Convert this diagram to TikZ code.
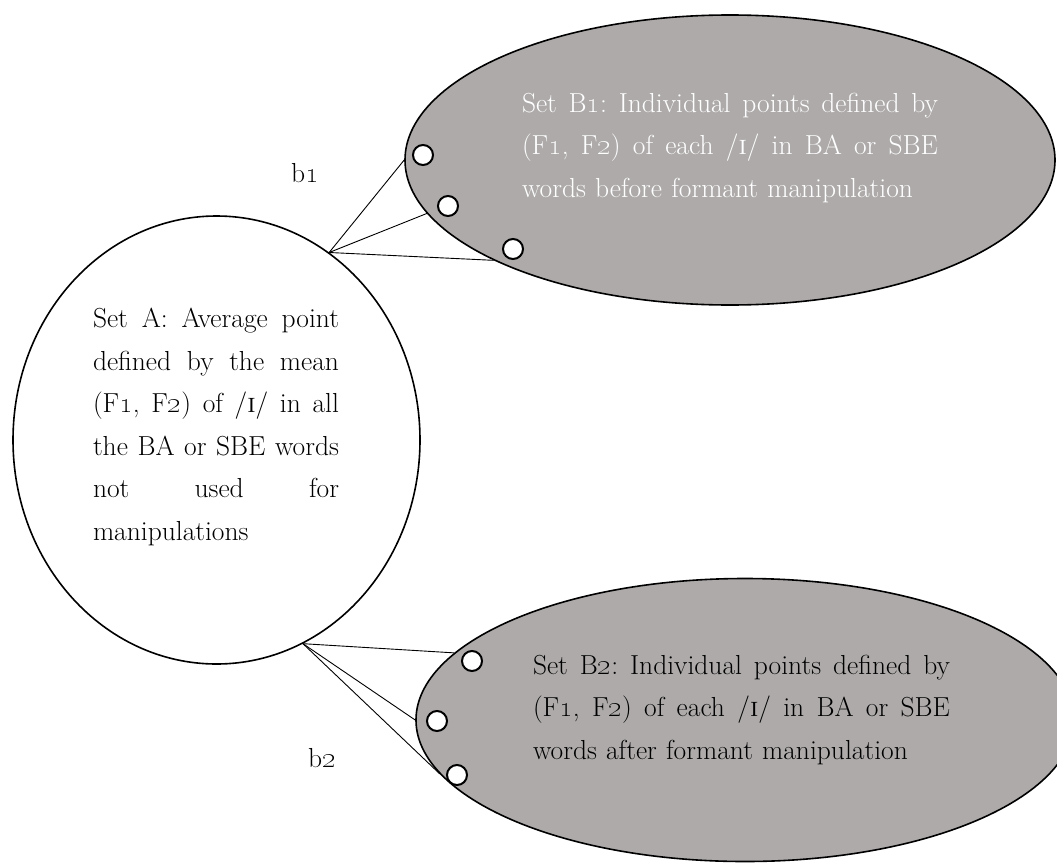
\documentclass[tikz,border=0pt]{standalone}
\usetikzlibrary{shapes.geometric}
\definecolor{setgrey}{HTML}{AEAAAA}
\newcommand{\fullline}[2]{\makebox[#1][s]{\spaceskip=0pt\xspaceskip=0pt #2}}
\newcommand{\os}[1]{\oldstylenums{#1}}
\frenchspacing

\begin{document}
\begin{tikzpicture}[x=1pt,y=-1pt,
  setshape/.style={draw,ellipse,line width=1.6pt,inner sep=0pt},
  dot/.style={draw,circle,fill=white,line width=2pt,minimum size=20pt,inner sep=0pt},
  tie/.style={line width=0.9pt},
  settext/.style={font=\fontsize{27.5}{42.5}\selectfont\frenchspacing,align=left,inner sep=0pt}]
  \useasboundingbox (0,0) rectangle (1057,862);
  \clip (0,0) rectangle (1057,862);
  \node[setshape,fill=white,minimum width=407,minimum height=448] (setA) at (216.5,440) {};
  \node[setshape,fill=setgrey,minimum width=650,minimum height=290] (setB1) at (730,160) {};
  \node[setshape,fill=setgrey,minimum width=658,minimum height=283] (setB2) at (745,720) {};
  \foreach \ang in {180.4,190.5,203.9}
    \draw[tie] (setA.59.3) -- (setB1.\ang);
  \foreach \ang in {167.2,180.3,190.3}
    \draw[tie] (setA.-67.2) -- (setB2.\ang);
  \foreach \pos [count=\i] in {(423,155),(448,206),(513,249)}
    \node[dot] (dotB1\i) at \pos {};
  \foreach \pos [count=\i] in {(472,661),(437,721),(457,775)}
    \node[dot] (dotB2\i) at \pos {};
  \node[settext,text width=246] (textA) at (216,427) {%
    \fullline{246pt}{Set A: Average point}\\
    \fullline{246pt}{defined by the mean}\\
    \fullline{246pt}{(F\os{1}, F\os{2}) of /\textsc{i}/ in all}\\
    \fullline{246pt}{the BA or SBE words}\\
    \fullline{246pt}{not used for}\\
    manipulations};
  \node[settext,text width=416,text=white] (textB1) at (730,148) {%
    \fullline{416pt}{Set B\os{1}: Individual points defined by}\\
    \fullline{416pt}{(F\os{1}, F\os{2}) of each /\textsc{i}/ in BA or SBE}\\
    words before formant manipulation};
  \node[settext,text width=417] (textB2) at (741.5,710) {%
    \fullline{417pt}{Set B\os{2}: Individual points defined by}\\
    \fullline{417pt}{(F\os{1}, F\os{2}) of each /\textsc{i}/ in BA or SBE}\\
    words after formant manipulation};
  \node[settext] (lblB1) at (305,173) {b\os{1}};
  \node[settext] (lblB2) at (322,758) {b\os{2}};
\end{tikzpicture}
\end{document}
